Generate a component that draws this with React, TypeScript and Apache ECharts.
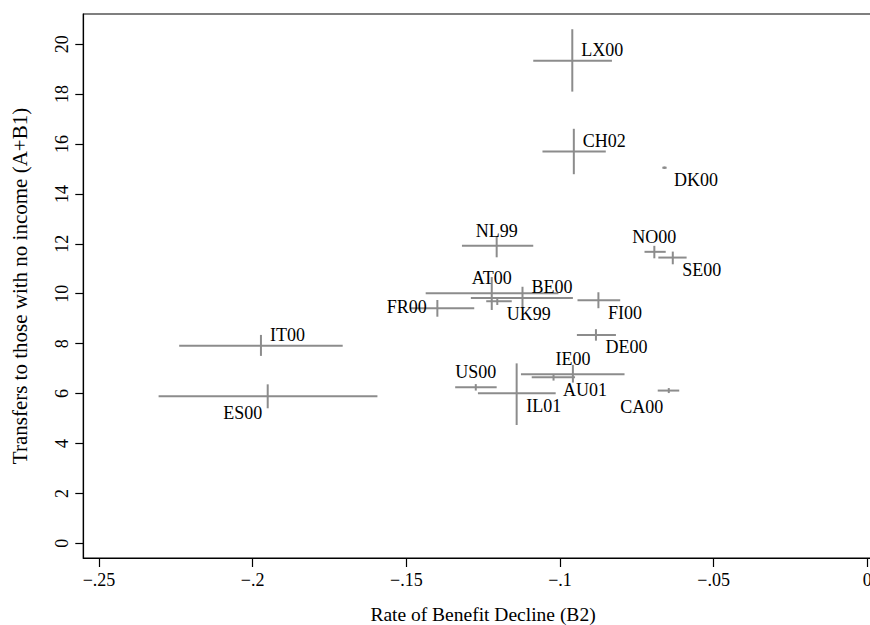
import React, { useEffect, useRef } from "react";
import * as echarts from "echarts";

// Country-year codes
const countries = ["LX00","CH02","DK00","NL99","NO00","SE00","AT00","BE00","UK99","FR00","FI00","DE00","IT00","ES00","US00","IL01","IE00","AU01","CA00"];
// Rate of Benefit Decline (B2): point estimate and interval
const rateB2 = [-0.0960,-0.0955,-0.0660,-0.1206,-0.0693,-0.0633,-0.1222,-0.1122,-0.1204,-0.1399,-0.0875,-0.0883,-0.1973,-0.1951,-0.1274,-0.1141,-0.0958,-0.1021,-0.0646];
const rateLo = [-0.1087,-0.1057,-0.0667,-0.1319,-0.0725,-0.0680,-0.1437,-0.1290,-0.1240,-0.1488,-0.0943,-0.0945,-0.2239,-0.2306,-0.1341,-0.1267,-0.1127,-0.1092,-0.0682];
const rateHi = [-0.0831,-0.0851,-0.0653,-0.1087,-0.0656,-0.0588,-0.1005,-0.0958,-0.1157,-0.1279,-0.0804,-0.0818,-0.1707,-0.1594,-0.1206,-0.1014,-0.0790,-0.0951,-0.0612];
// Transfers to those with no income (A+B1): point estimate and interval
const transfers = [19.34,15.70,15.05,11.92,11.68,11.45,10.02,9.83,9.70,9.42,9.74,8.35,7.92,5.89,6.25,6.01,6.77,6.65,6.12];
const transLo = [18.10,14.79,15.00,11.46,11.42,11.18,9.35,9.42,9.55,9.08,9.42,8.12,7.51,5.41,6.12,4.74,6.44,6.52,6.02];
const transHi = [20.60,16.61,15.10,12.29,11.92,11.69,10.67,10.28,9.85,9.75,10.06,8.58,8.35,6.37,6.38,7.21,7.15,6.75,6.22];
// Tick values
const xTicks = [-0.25, -0.2, -0.15, -0.1, -0.05, 0];
const yTicks = [0, 2, 4, 6, 8, 10, 12, 14, 16, 18, 20];

// Label placement (style): compass direction relative to the marker
const labelPlacement: Record<string, string> = {
  LX00: "ne", CH02: "ne", DK00: "se", NL99: "n", NO00: "n", SE00: "se",
  AT00: "n", BE00: "ne", UK99: "se", FR00: "w", FI00: "se", DE00: "se",
  IT00: "ne", ES00: "sw", US00: "n", IL01: "se", IE00: "n", AU01: "se", CA00: "sw",
};

const FONT = '"Liberation Serif", "Times New Roman", serif';
const LINE = "#8c8c8c";

function fmtX(v: number) {
  if (Math.abs(v) < 1e-9) return "0";
  const s = String(Math.abs(+v.toFixed(4))).replace(/^0/, "");
  return (v < 0 ? "\u2212" : "") + s;
}

export default function App() {
  const ref = useRef<HTMLDivElement>(null);
  useEffect(() => {
    if (!ref.current) return;
    const chart = echarts.init(ref.current, undefined, { renderer: "svg" });
    const data = countries.map((c, i) => [rateB2[i], transfers[i], rateLo[i], rateHi[i], transLo[i], transHi[i], i]);
    chart.setOption({
      animation: false,
      backgroundColor: "#ffffff",
      grid: {
        left: 83.3, top: 14, right: -12.7, bottom: 67,
        outerBoundsMode: "none", containLabel: false,
        show: true, borderColor: "#000", borderWidth: 1.2, backgroundColor: "transparent",
      },
      xAxis: {
        type: "value", min: -0.2551, max: 0.005,
        splitLine: { show: false },
        axisLine: { show: true, onZero: false, lineStyle: { color: "#000", width: 1.2 } },
        axisTick: { show: true, length: 9, customValues: xTicks, lineStyle: { color: "#000", width: 1.2 } },
        axisLabel: {
          customValues: xTicks, formatter: (v: number) => fmtX(v),
          color: "#000", fontFamily: FONT, fontSize: 18, margin: 13, showMinLabel: true, showMaxLabel: true,
        },
        name: "Rate of Benefit Decline (B2)", nameLocation: "middle", nameGap: 46,
        nameTextStyle: { color: "#000", fontFamily: FONT, fontSize: 19.5 },
      },
      yAxis: {
        type: "value", min: -0.589, max: 21.21,
        splitLine: { show: false },
        axisLine: { show: true, onZero: false, lineStyle: { color: "#000", width: 1.2 } },
        axisTick: { show: true, length: 8, customValues: yTicks, lineStyle: { color: "#000", width: 1.2 } },
        axisLabel: {
          customValues: yTicks, rotate: 90, color: "#000", fontFamily: FONT, fontSize: 18, margin: 12,
          showMinLabel: true, showMaxLabel: true,
        },
        name: "Transfers to those with no income (A+B1)", nameLocation: "middle", nameGap: 53,
        nameTextStyle: { color: "#000", fontFamily: FONT, fontSize: 21 },
      },
      series: [
        {
          type: "custom",
          data,
          renderItem: (params: any, api: any) => {
            const x = api.value(0), y = api.value(1);
            const xlo = api.value(2), xhi = api.value(3), ylo = api.value(4), yhi = api.value(5);
            const idx = api.value(6);
            const c = api.coord([x, y]);
            const l = api.coord([xlo, y]);
            const r = api.coord([xhi, y]);
            const b = api.coord([x, ylo]);
            const t = api.coord([x, yhi]);
            const name = countries[idx];
            const pos = labelPlacement[name] || "ne";
            let tx = c[0], ty = c[1], align = "left";
            if (pos === "ne") { tx += 9; ty -= 11; align = "left"; }
            else if (pos === "se") { tx += 9.5; ty += 12.5; align = "left"; }
            else if (pos === "n") { ty -= 15.3; align = "center"; }
            else if (pos === "w") { tx -= 10.6; ty -= 1.5; align = "right"; }
            else if (pos === "sw") { tx -= 5.5; ty += 16.5; align = "right"; }
            return {
              type: "group",
              children: [
                { type: "line", shape: { x1: l[0], y1: c[1], x2: r[0], y2: c[1] }, style: { stroke: LINE, lineWidth: 2 } },
                { type: "line", shape: { x1: c[0], y1: b[1], x2: c[0], y2: t[1] }, style: { stroke: LINE, lineWidth: 2 } },
                {
                  type: "text",
                  style: { text: name, x: tx, y: ty, align, verticalAlign: "middle", fill: "#000", font: `18px ${FONT}` },
                },
              ],
            };
          },
        },
      ],
    });
    return () => chart.dispose();
  }, []);
  return <div ref={ref} style={{ position: "fixed", left: 0, top: 0, width: 870, height: 625, background: "#fff" }} />;
}
